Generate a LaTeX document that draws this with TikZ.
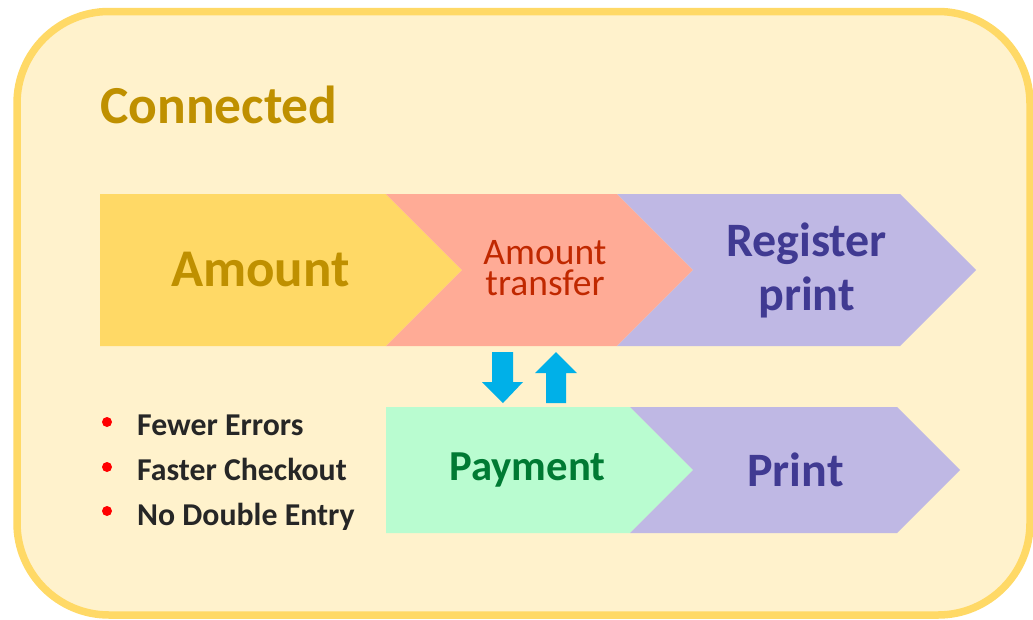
\documentclass[tikz,border=0pt]{standalone}
\usepackage{fontspec}
\setmainfont{Carlito}
\definecolor{bgfill}{HTML}{FFF2CC}
\definecolor{bgdraw}{HTML}{FFD966}
\definecolor{cyellow}{HTML}{FFD966}
\definecolor{csalmon}{HTML}{FFAB96}
\definecolor{cpurple}{HTML}{BFB8E4}
\definecolor{cgreen}{HTML}{B9FCD0}
\definecolor{tgold}{HTML}{BF9000}
\definecolor{tred}{HTML}{C02800}
\definecolor{tpurple}{HTML}{403A92}
\definecolor{tgreen}{HTML}{007A33}
\definecolor{tdark}{HTML}{262626}
\definecolor{carrow}{HTML}{00B0E8}
\tikzset{
  chev/.style={draw=none},
  lbl/.style={inner sep=0pt, align=center},
  bul/.style={inner sep=0pt, anchor=base west, text=tdark, font=\fontsize{31.8}{36}\selectfont\bfseries},
  dotb/.style={fill=red, draw=none},
  blockarrow/.style={fill=carrow, draw=none}
}
\begin{document}
\begin{tikzpicture}[x=1pt,y=-1pt]
\useasboundingbox (0,0) rectangle (1033,619);
% outer panel
\draw[bgdraw, fill=bgfill, line width=7.5pt, rounded corners=92pt] (17,11.5) rectangle (1030,615);
% title
\node[lbl, anchor=base west, text=tgold, font=\fontsize{53.5}{60}\selectfont\bfseries] (title) at (100,123) {Connected};
% top row chevrons
\fill[cyellow] (100,194) -- (386,194) -- (462,270) -- (386,346) -- (100,346) -- cycle;
\fill[csalmon] (386,194) -- (617,194) -- (693,270) -- (617,346) -- (386,346) -- (462,270) -- cycle;
\fill[cpurple] (617,194) -- (900,194) -- (976,270) -- (900,346) -- (617,346) -- (693,270) -- cycle;
% bottom row chevrons
\fill[cgreen] (386,407) -- (630,407) -- (693,470) -- (630,533) -- (386,533) -- cycle;
\fill[cpurple] (630,407) -- (897,407) -- (960,470) -- (897,533) -- (630,533) -- (693,470) -- cycle;
% labels
\node[lbl, text=tgold, font=\fontsize{53}{60}\selectfont\bfseries] (amount) at (260.5,270) {Amount};
\node[lbl, text=tred, font=\fontsize{37.5}{30.5}\selectfont] (transfer) at (545,268) {Amount\\transfer};
\node[lbl, text=tpurple, font=\fontsize{48}{54}\selectfont\bfseries] (register) at (806.5,270) {Register\\print};
\node[lbl, text=tgreen, font=\fontsize{42.7}{48}\selectfont\bfseries] (payment) at (527.5,470) {Payment};
\node[lbl, text=tpurple, font=\fontsize{48}{54}\selectfont\bfseries] (print) at (795.5,470) {Print};
% block arrows
\fill[blockarrow] (492,352) -- (513,352) -- (513,382) -- (523,382) -- (503,403) -- (482,382) -- (492,382) -- cycle;
\fill[blockarrow] (546,403) -- (566,403) -- (566,373) -- (577,373) -- (556,352) -- (535,373) -- (546,373) -- cycle;
% bullets
\fill[dotb] (107,422) circle (5);
\fill[dotb] (107,467) circle (5);
\fill[dotb] (107,511) circle (5);
\node[bul] (b1) at (137,435) {Fewer Errors};
\node[bul] (b2) at (137,480) {Faster Checkout};
\node[bul] (b3) at (137,525) {No Double Entry};
\end{tikzpicture}
\end{document}
